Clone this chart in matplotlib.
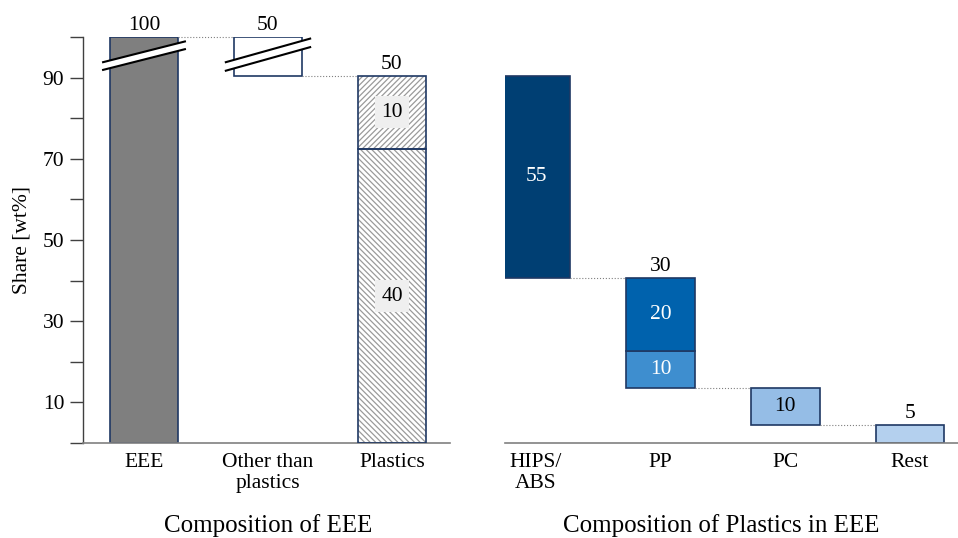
import matplotlib
matplotlib.use("Agg")
import matplotlib.pyplot as plt
from matplotlib.patches import Polygon
import numpy as np

plt.rcParams['font.family'] = ['Liberation Serif', 'DejaVu Serif']
plt.rcParams['hatch.linewidth'] = 0.9

# ---- data ----
left_categories = ["EEE", "Other than\nplastics", "Plastics"]
left_totals = [100, 50, 50]
plastics_parts = [40, 10]           # bottom, top
right_categories = ["HIPS/\nABS", "PP", "PC", "Rest"]
right_values = [55, 30, 10, 5]
pp_parts = [10, 20]                 # bottom, top
yticks = [10, 30, 50, 70, 90]

# display scale (broken axis): plastics bar drawn to this height
plastics_top = 90.5
pscale = plastics_top / sum(plastics_parts)          # wt% of EEE -> display
rscale = plastics_top / sum(right_values)             # % of plastics -> display

EDGE = "#1f3864"
W = 0.55
FS = 15.5

fig = plt.figure(figsize=(9.58, 5.38), dpi=100)
H = 538.0
bot = (H - 443) / H
hgt = 406 / H
ax1 = fig.add_axes([83 / 958, bot, (450 - 83) / 958, hgt])
ax2 = fig.add_axes([505 / 958, bot, (958 - 505) / 958, hgt])

for ax in (ax1, ax2):
    ax.set_ylim(0, 100)
    for s in ("top", "right"):
        ax.spines[s].set_visible(False)
    ax.spines["bottom"].set_color("#808080")
    ax.spines["bottom"].set_linewidth(1.2)
    ax.tick_params(axis="x", length=0, labelsize=FS, pad=7)

ax1.set_xlim(-0.492, 2.468)
ax2.set_xlim(-0.249, 3.385)
ax2.spines["left"].set_visible(False)
ax2.set_yticks([])

ax1.spines["left"].set_color("#404040")
ax1.spines["left"].set_linewidth(1.0)
ax1.set_yticks(np.arange(0, 101, 10))
ax1.set_yticklabels([str(v) if v in yticks else "" for v in range(0, 101, 10)], fontsize=FS)
ax1.tick_params(axis="y", length=9.5, width=1.0, color="#404040", pad=4)
ax1.set_ylabel("Share [wt%]", fontsize=15.5, labelpad=8)

# ---- left panel ----
other_bottom = plastics_top
ax1.bar(0, left_totals[0], W, color="#7f7f7f", edgecolor=EDGE, linewidth=1.2, zorder=2)
ax1.bar(1, 100 - other_bottom, W, bottom=other_bottom, color="white", edgecolor=EDGE, linewidth=1.2, zorder=2)
p_low = plastics_parts[0] * pscale
p_high = plastics_parts[1] * pscale
ax1.bar(2, p_low, W, color="white", edgecolor="#9a9a9a", hatch="\\" * 6, linewidth=0, zorder=2)
ax1.bar(2, p_high, W, bottom=p_low, color="white", edgecolor="#9a9a9a", hatch="/" * 6, linewidth=0, zorder=2)
ax1.bar(2, p_low, W, color="none", edgecolor=EDGE, linewidth=1.2, zorder=3)
ax1.bar(2, p_high, W, bottom=p_low, color="none", edgecolor=EDGE, linewidth=1.2, zorder=3)

bbox = dict(boxstyle="square,pad=0.3", fc="#efefef", ec="none")
ax1.text(2, p_low / 2, str(plastics_parts[0]), ha="center", va="center", fontsize=FS, bbox=bbox, zorder=4)
ax1.text(2, p_low + p_high / 2, str(plastics_parts[1]), ha="center", va="center", fontsize=FS, bbox=bbox, zorder=4)

for i, v in enumerate(left_totals):
    top = 100 if i < 2 else plastics_top
    ax1.text(i, top + 0.5, str(v), ha="center", va="bottom", fontsize=FS, clip_on=False)

# connectors
ax1.plot([0 + W / 2, 1 - W / 2], [100, 100], ls=":", color="#808080", lw=0.8, clip_on=False)
ax1.plot([1 + W / 2, 2 - W / 2], [other_bottom, other_bottom], ls=":", color="#808080", lw=0.8)

# break marks
def break_mark(ax, xc, y_left, y_right, x_ext, gap):
    xl, xr = xc - x_ext, xc + x_ext
    poly = Polygon([[xl, y_left], [xr, y_right], [xr, y_right + gap], [xl, y_left + gap]],
                   closed=True, fc="white", ec="none", zorder=5, clip_on=False)
    ax.add_patch(poly)
    ax.plot([xl, xr], [y_left, y_right], color="black", lw=1.5, zorder=6, clip_on=False)
    ax.plot([xl, xr], [y_left + gap, y_right + gap], color="black", lw=1.5, zorder=6, clip_on=False)

break_mark(ax1, 0, 91.9, 97.0, 0.33, 1.9)
break_mark(ax1, 1, 91.7, 97.5, 0.34, 2.1)

ax1.set_xticks(range(3))
ax1.set_xticklabels(left_categories, fontsize=FS, linespacing=1.15)

# ---- right panel ----
colors = ["#003f73", "#0062ad", "#95bde6", "#b4d0ee"]
cum = sum(right_values) * rscale
for i, v in enumerate(right_values):
    h = v * rscale
    bottom = cum - h
    if i == 1:
        hb = pp_parts[0] * rscale
        ht = pp_parts[1] * rscale
        ax2.bar(i, hb, W, bottom=bottom, color="#3e8ecf", edgecolor=EDGE, linewidth=1.2, zorder=2)
        ax2.bar(i, ht, W, bottom=bottom + hb, color=colors[i], edgecolor=EDGE, linewidth=1.2, zorder=2)
        ax2.text(i, bottom + hb / 2, str(pp_parts[0]), ha="center", va="center", color="white", fontsize=FS)
        ax2.text(i, bottom + hb + ht / 2, str(pp_parts[1]), ha="center", va="center", color="white", fontsize=FS)
        ax2.text(i, cum + 0.5, str(v), ha="center", va="bottom", fontsize=FS)
    else:
        ax2.bar(i, h, W, bottom=bottom, color=colors[i], edgecolor=EDGE, linewidth=1.2, zorder=2)
        if i == 0:
            ax2.text(i, bottom + h / 2, str(v), ha="center", va="center", color="white", fontsize=FS)
        elif i == 2:
            ax2.text(i, bottom + h / 2, str(v), ha="center", va="center", color="black", fontsize=FS)
        else:
            ax2.text(i, cum + 0.5, str(v), ha="center", va="bottom", fontsize=FS)
    if i > 0:
        ax2.plot([i - 1 + W / 2, i - W / 2], [cum, cum], ls=":", color="#808080", lw=0.8)
    cum = bottom

ax2.set_xticks(range(4))
ax2.set_xticklabels(right_categories, fontsize=FS, linespacing=1.15)

fig.text(268 / 958, 1 - 526 / H, "Composition of EEE", ha="center", va="center", fontsize=18)
fig.text(721 / 958, 1 - 526 / H, "Composition of Plastics in EEE", ha="center", va="center", fontsize=18)

fig.savefig("out.png", dpi=100)
